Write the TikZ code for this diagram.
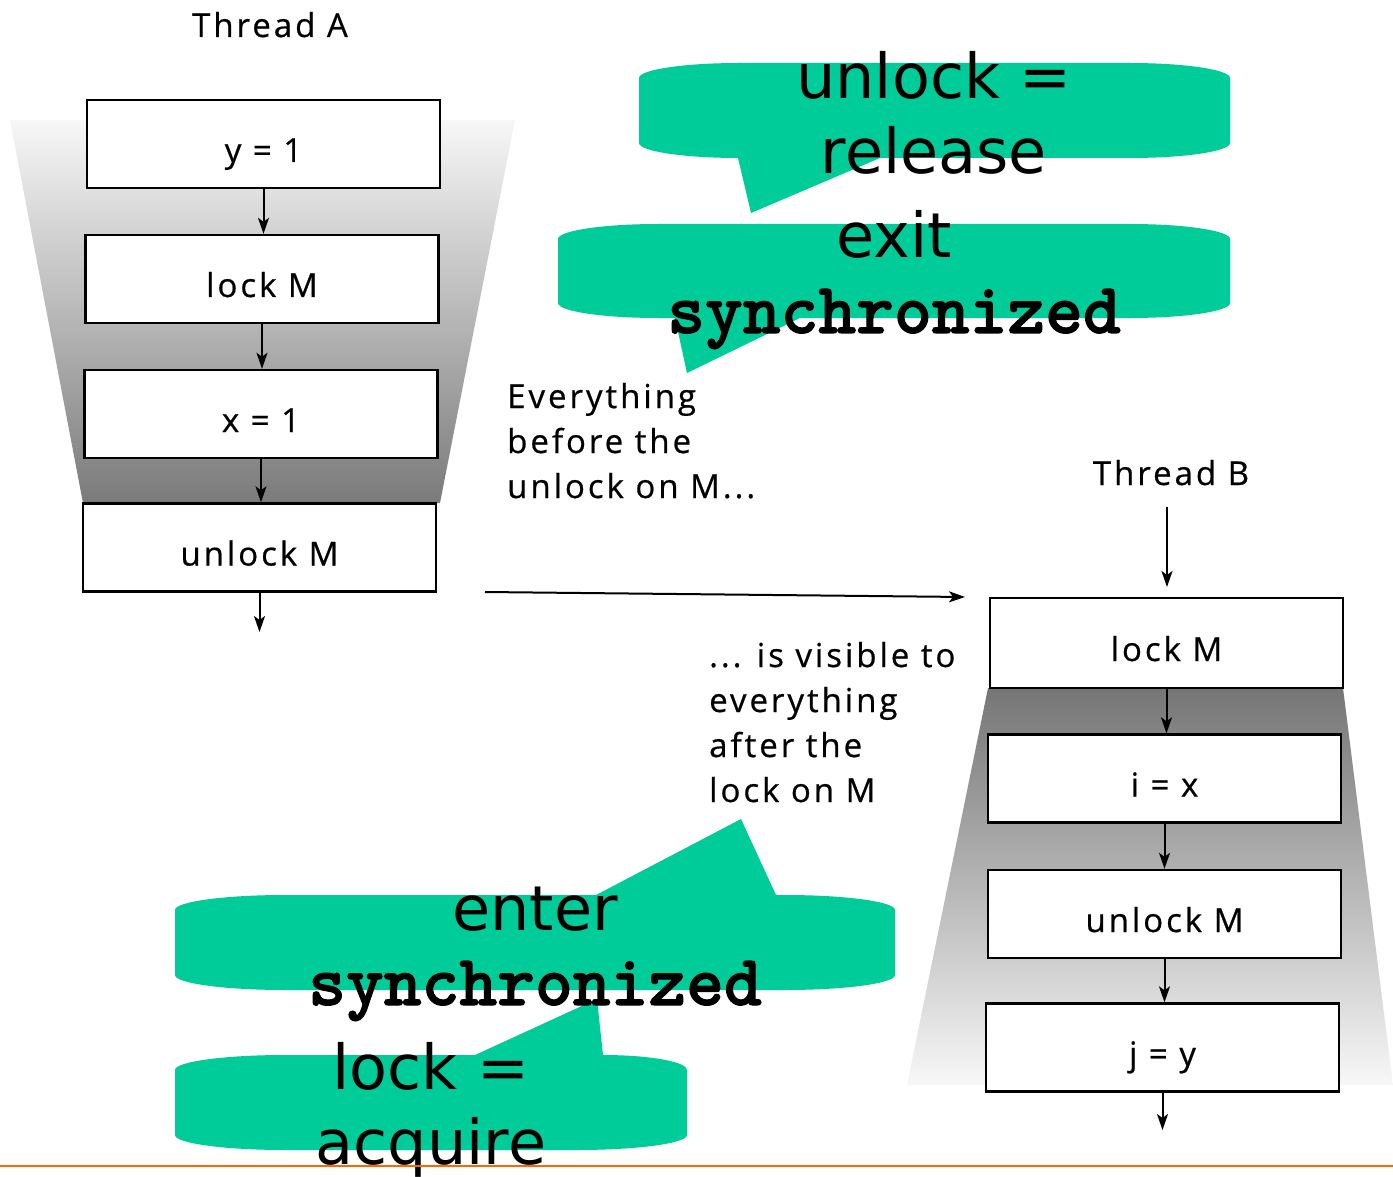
\documentclass[tikz,border=0pt]{standalone}
\usepackage{fontspec}
\setmainfont{Open Sans}[LetterSpace=9,FakeBold=0.6]
\newfontfamily\calloutfont{DejaVu Sans}
\newfontfamily\codefont{lmmonolt10-bold.otf}[FakeBold=1.5]
\newcommand\codetext[1]{{\codefont\fontsize{72}{75}\selectfont #1}}
\usetikzlibrary{arrows.meta}
\definecolor{calloutgreen}{RGB}{0,204,153}
\definecolor{rulecolor}{RGB}{255,102,0}

\begin{document}
\begin{tikzpicture}[x=1pt,y=-1pt,
  stepbox/.style={draw=black, line width=2.4pt, fill=white,
    minimum width=353pt, minimum height=88pt, inner sep=0pt,
    text height=36pt, text depth=0pt, font=\fontsize{33}{38}\selectfont},
  flow/.style={line width=2pt, -{Stealth[length=16pt,width=11pt,inset=4pt]}},
  threadlabel/.style={inner sep=0pt, anchor=base, font=\fontsize{33}{38}\selectfont},
  notetext/.style={inner sep=0pt, anchor=base west, font=\fontsize{33}{45}\selectfont},
  bubble/.style={fill=calloutgreen, draw=none},
  bubbletext/.style={inner sep=0pt, anchor=base, font=\calloutfont\fontsize{62}{75}\selectfont}
]
\useasboundingbox (0,0) rectangle (1393,1177);

% --- shaded funnels behind the two threads ---
\shade[top color=black!3, bottom color=black!52]
  (10,120) -- (515,120) -- (440,503) -- (83,503) -- cycle;
\shade[top color=black!54, bottom color=black!3]
  (988,688) -- (1343,688) -- (1393,1085) -- (907,1085) -- cycle;

% --- Thread A ---
\node[threadlabel] (ta) at (270,37) {Thread A};
\node[stepbox] (a1) at (263.5,144)   {y = 1};
\node[stepbox] (a2) at (262,279)     {lock M};
\node[stepbox] (a3) at (261,414)     {x = 1};
\node[stepbox] (a4) at (259.5,547.5) {unlock M};
\coordinate (aout) at (259.5,632);

\draw[flow] (a1.south) -- (a1.south |- a2.north);
\draw[flow] (a2.south) -- (a2.south |- a3.north);
\draw[flow] (a3.south) -- (a3.south |- a4.north);
\draw[flow] (a4.south) -- (aout);

% --- Thread B ---
\node[threadlabel] (tb) at (1171,485) {Thread B};
\node[stepbox, minimum height=90pt] (b1) at (1166.5,643) {lock M};
\node[stepbox] (b2) at (1164.5,778.5) {i = x};
\node[stepbox] (b3) at (1164.5,914)   {unlock M};
\node[stepbox] (b4) at (1162.5,1047.5) {j = y};
\coordinate (bin) at (1167,507);
\coordinate (bintip) at (1167,587);
\coordinate (bout) at (1162.5,1130);

\draw[flow] (bin) -- (bintip);
\draw[flow] (b1.south) -- (b1.south |- b2.north);
\draw[flow] (b2.south) -- (b2.south |- b3.north);
\draw[flow] (b3.south) -- (b3.south |- b4.north);
\draw[flow] (b4.south) -- (bout);

% --- happens-before edge from the unlock to the lock ---
\coordinate (hstart) at (485,592);
\coordinate (hend) at (965,597);
\draw[flow] (hstart) -- (hend);

% --- explanatory notes ---
\node[notetext] (before) at (507,408)
  {\begin{tabular}[t]{@{}l@{}}Everything\\before the\\unlock on M...\end{tabular}};
\node[notetext] (after) at (709,667)
  {\begin{tabular}[t]{@{}l@{}}... is visible to\\everything\\after the\\lock on M\end{tabular}};

% --- callout shapes ---
% unlock = release
\fill[bubble] (639,78) arc[start angle=180,end angle=270,x radius=100,y radius=15]
  -- (1130,63) arc[start angle=270,end angle=360,x radius=100,y radius=15]
  -- (1230,143) arc[start angle=0,end angle=90,x radius=100,y radius=15]
  -- (880,158) -- (751,213) -- (738,158) -- (739,158)
  arc[start angle=90,end angle=180,x radius=100,y radius=15] -- cycle;
% exit synchronized
\fill[bubble] (558,239) arc[start angle=180,end angle=270,x radius=100,y radius=15]
  -- (1130,224) arc[start angle=270,end angle=360,x radius=100,y radius=15]
  -- (1230,303) arc[start angle=0,end angle=90,x radius=100,y radius=15]
  -- (800,318) -- (687,373) -- (675,318) -- (658,318)
  arc[start angle=90,end angle=180,x radius=100,y radius=15] -- cycle;
% enter synchronized
\fill[bubble] (175,910) arc[start angle=180,end angle=270,x radius=110,y radius=15]
  -- (596,895) -- (741,819) -- (776,895) -- (785,895)
  arc[start angle=270,end angle=360,x radius=110,y radius=15]
  -- (895,975) arc[start angle=0,end angle=90,x radius=110,y radius=15]
  -- (285,990) arc[start angle=90,end angle=180,x radius=110,y radius=15] -- cycle;
% lock = acquire
\fill[bubble] (175,1070) arc[start angle=180,end angle=270,x radius=110,y radius=15]
  -- (475,1055) -- (597,999) -- (603,1055)
  arc[start angle=270,end angle=360,x radius=84,y radius=15]
  -- (687,1135) arc[start angle=0,end angle=90,x radius=110,y radius=15]
  -- (285,1150) arc[start angle=90,end angle=180,x radius=110,y radius=15] -- cycle;

% --- callout texts ---
\node[bubbletext] (release) at (934,99)
  {\begin{tabular}[t]{@{}c@{}}unlock =\\release\end{tabular}};
\node[bubbletext] (exitsync) at (894,258)
  {\begin{tabular}[t]{@{}c@{}}exit\\\codetext{synchronized}\end{tabular}};
\node[bubbletext] (entersync) at (535,930)
  {\begin{tabular}[t]{@{}c@{}}enter\\\codetext{synchronized}\end{tabular}};
\node[bubbletext] (acquire) at (431,1089)
  {\begin{tabular}[t]{@{}c@{}}lock =\\acquire\end{tabular}};

% --- bottom rule ---
\draw[rulecolor, line width=2.5pt] (0,1166) -- (1393,1166);
\end{tikzpicture}
\end{document}
